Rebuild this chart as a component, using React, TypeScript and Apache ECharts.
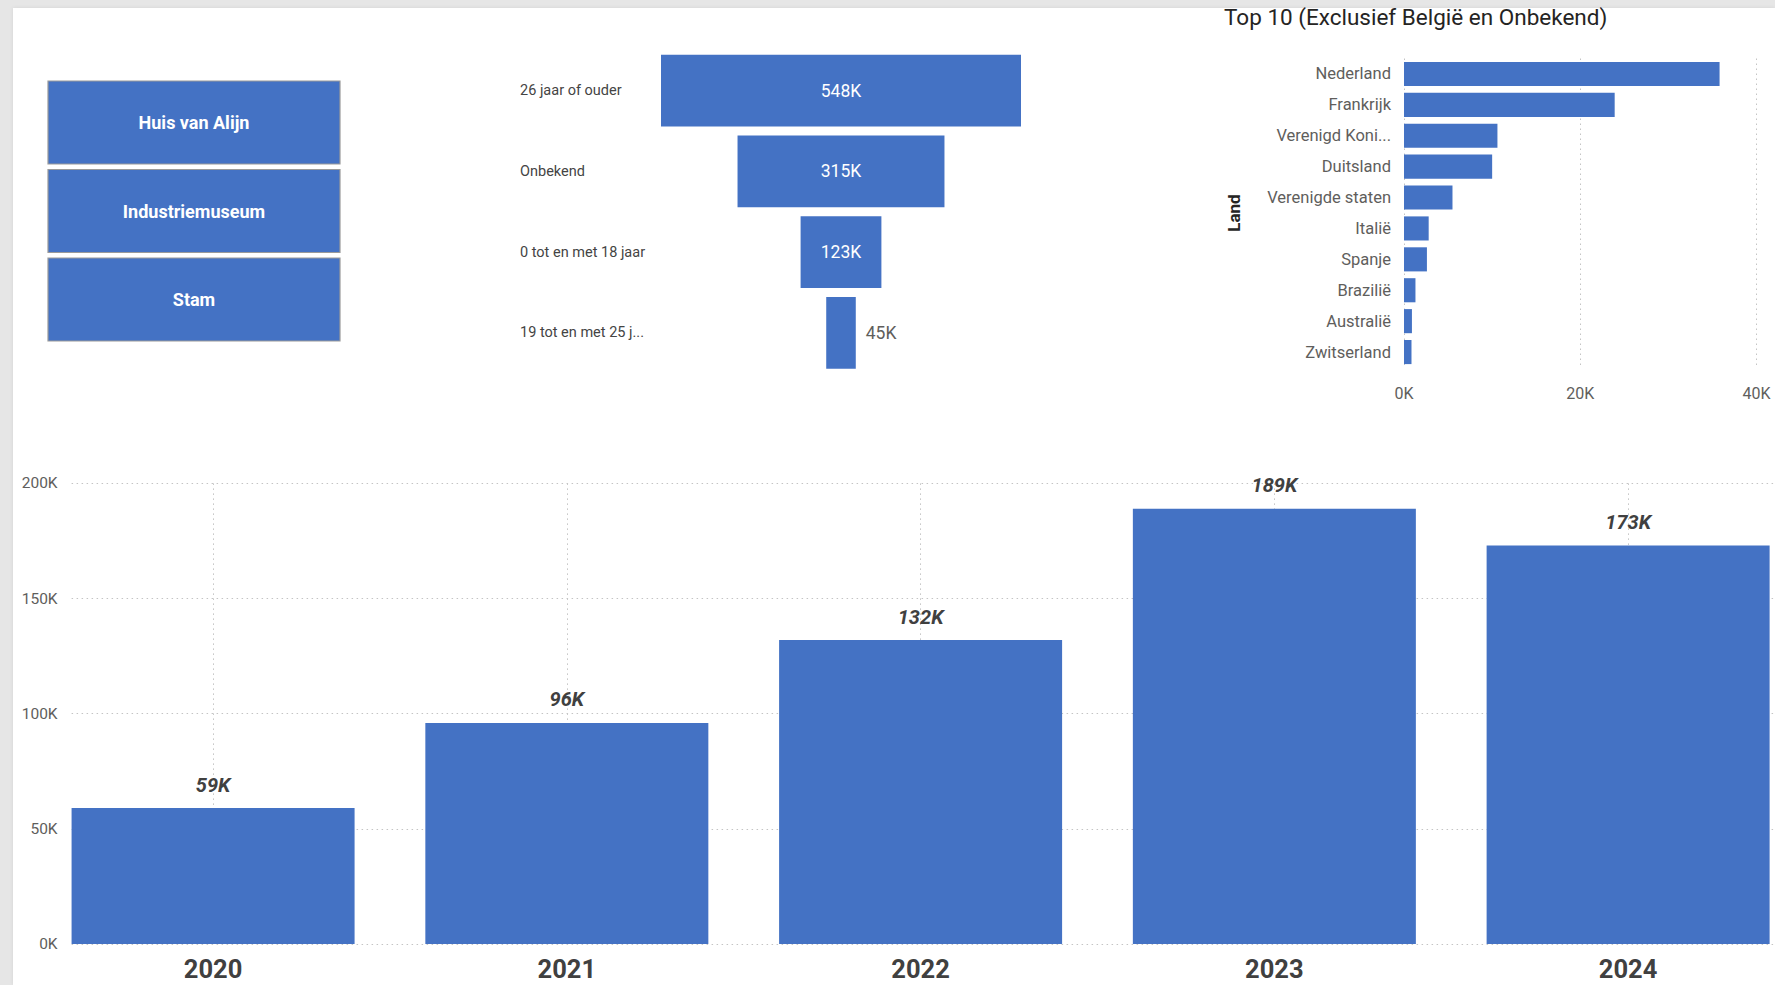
import React, { useEffect, useRef } from "react";
import * as echarts from "echarts";

const museums = ["Huis van Alijn", "Industriemuseum", "Stam"];

const ageGroups = ["26 jaar of ouder", "Onbekend", "0 tot en met 18 jaar", "19 tot en met 25 jaar"];
const ageVisitors = [548000, 315000, 123000, 45000];

const countries = [
  "Nederland",
  "Frankrijk",
  "Verenigd Koninkrijk",
  "Duitsland",
  "Verenigde staten",
  "Italië",
  "Spanje",
  "Brazilië",
  "Australië",
  "Zwitserland",
];
const countryVisitors = [35800, 23900, 10600, 10000, 5500, 2800, 2600, 1300, 900, 850];
const countryTitle = "Top 10 (Exclusief België en Onbekend)";
const countryAxisName = "Land";

const years = ["2020", "2021", "2022", "2023", "2024"];
const yearVisitors = [59000, 96000, 132000, 189000, 173000];

const BLUE = "#4472C4";
const GRAY = "#605E5C";
const FONT = "Roboto";

const kFormat = (v: number) => Math.round(v / 1000) + "K";

export default function App() {
  const ref = useRef<HTMLDivElement>(null);

  useEffect(() => {
    if (!ref.current) return;
    const chart = echarts.init(ref.current, undefined, { renderer: "svg" });
    const maxAge = Math.max(...ageVisitors);

    const gridLine = { show: true, lineStyle: { color: "#c4c4c4", type: [1.5, 3.5], width: 1 } };

    const buttonGraphics: any[] = [];
    museums.forEach((m, i) => {
      buttonGraphics.push({
        type: "rect",
        shape: { x: 48, y: 81 + i * 88.5, width: 292, height: 83 },
        style: { fill: BLUE, stroke: "#9a9a9a", lineWidth: 1.2 },
      });
      buttonGraphics.push({
        type: "text",
        x: 194,
        y: 122.5 + i * 88.5,
        style: {
          text: m,
          fill: "#ffffff",
          fontSize: 18,
          fontWeight: "bold",
          fontFamily: FONT,
          align: "center",
          verticalAlign: "middle",
          textAlign: "center",
          textVerticalAlign: "middle",
        },
      });
    });

    const option: any = {
      animation: false,
      textStyle: { fontFamily: FONT },
      title: {
        text: countryTitle,
        left: 1219,
        top: 0,
        textStyle: { fontSize: 22.5, fontWeight: "normal", color: "#252423", fontFamily: FONT },
      },
      graphic: buttonGraphics,
      grid: [
        { left: 661, width: 360, top: 50.2, height: 323 },
        { left: 1404, width: 352.6, top: 58.5, height: 309 },
        { left: 36.2, right: -30, top: 483.4, height: 460.6, outerBoundsMode: "none" },
        { left: 71.6, width: 1703.4, top: 483.4, height: 460.6 },
      ],
      xAxis: [
        { gridIndex: 0, type: "value", min: 0, max: maxAge, show: false },
        {
          gridIndex: 1,
          type: "value",
          min: 0,
          max: 40000,
          interval: 20000,
          axisLine: { show: false },
          axisTick: { show: false },
          axisLabel: { formatter: (v: number) => v / 1000 + "K", color: GRAY, fontSize: 16, margin: 17.5 },
          splitLine: gridLine,
        },
        {
          gridIndex: 2,
          type: "category",
          data: years,
          axisLine: { show: false },
          axisTick: { show: false },
          axisLabel: { color: "#404040", fontSize: 25.5, fontWeight: "bold", margin: 11.5 },
          splitLine: { ...gridLine, alignWithLabel: true },
        },
        { gridIndex: 3, type: "value", min: 0, max: 1, show: false },
      ],
      yAxis: [
        {
          gridIndex: 0,
          type: "category",
          data: ageGroups,
          inverse: true,
          axisLine: { show: false },
          axisTick: { show: false },
          axisLabel: {
            align: "left",
            margin: 141,
            fontSize: 14.5,
            color: "#444444",
            width: 129,
            overflow: "truncate",
            ellipsis: "...",
          },
        },
        {
          gridIndex: 1,
          type: "category",
          data: countries,
          inverse: true,
          axisLine: { show: false },
          axisTick: { show: false },
          axisLabel: {
            margin: 13,
            fontSize: 16.5,
            color: GRAY,
            width: 125,
            overflow: "truncate",
            ellipsis: "...",
          },
          name: countryAxisName,
          nameLocation: "middle",
          nameGap: 162,
          nameTextStyle: { fontSize: 17, fontWeight: "bold", color: "#252423" },
        },
        { gridIndex: 2, type: "value", min: 0, max: 200000, show: false },
        {
          gridIndex: 3,
          type: "value",
          min: 0,
          max: 200000,
          interval: 50000,
          axisLine: { show: false },
          axisTick: { show: false },
          axisLabel: { formatter: kFormat, color: GRAY, fontSize: 15.5, margin: 14 },
          splitLine: gridLine,
        },
      ],
      series: [
        {
          type: "bar",
          xAxisIndex: 0,
          yAxisIndex: 0,
          stack: "funnel",
          silent: true,
          barCategoryGap: "11%",
          itemStyle: { color: "transparent" },
          data: ageVisitors.map((v) => (maxAge - v) / 2),
        },
        {
          type: "bar",
          xAxisIndex: 0,
          yAxisIndex: 0,
          stack: "funnel",
          barCategoryGap: "11%",
          itemStyle: { color: BLUE },
          data: ageVisitors.map((v) => {
            const fits = v / maxAge > 0.12;
            return {
              value: v,
              label: fits
                ? { show: true, position: "inside", color: "#ffffff", fontSize: 17.5, formatter: (p: any) => kFormat(p.value) }
                : { show: true, position: "right", distance: 10, color: GRAY, fontSize: 17.5, formatter: (p: any) => kFormat(p.value) },
            };
          }),
        },
        {
          type: "bar",
          xAxisIndex: 1,
          yAxisIndex: 1,
          barCategoryGap: "22%",
          itemStyle: { color: BLUE },
          data: countryVisitors,
        },
        {
          type: "bar",
          xAxisIndex: 2,
          yAxisIndex: 2,
          barCategoryGap: "20%",
          itemStyle: { color: BLUE },
          label: {
            show: true,
            position: "top",
            distance: 13.5,
            formatter: (p: any) => kFormat(p.value),
            fontSize: 20,
            fontWeight: "bold",
            fontStyle: "italic",
            color: "#404040",
          },
          data: yearVisitors,
        },
      ],
    };

    chart.setOption(option);
    return () => chart.dispose();
  }, []);

  return (
    <div style={{ position: "fixed", left: 0, top: 0, width: 1775, height: 985, background: "#e6e6e6", overflow: "hidden" }}>
      <div style={{ position: "absolute", left: 13, top: 8, width: 1762, height: 977, background: "#ffffff", boxShadow: "0 0 4px rgba(0,0,0,0.08)" }} />
      <div ref={ref} style={{ position: "absolute", left: 0, top: 0, width: 1775, height: 985 }} />
    </div>
  );
}
